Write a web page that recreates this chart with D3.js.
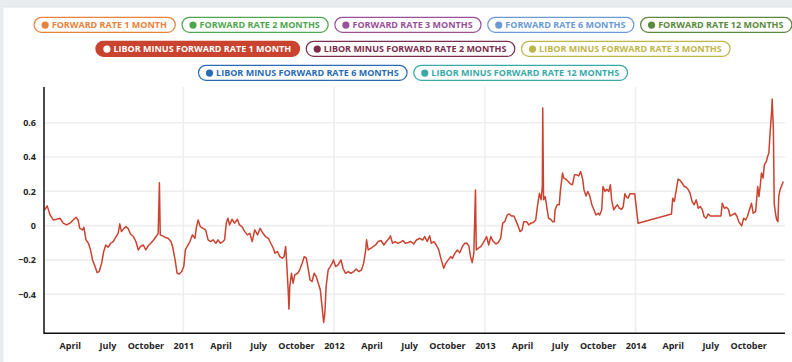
<!DOCTYPE html>
<html><head><meta charset="utf-8">
<script src="https://cdn.jsdelivr.net/npm/d3@7/dist/d3.min.js"></script>
<style>
html,body{margin:0;padding:0;background:#fff;overflow:hidden;}
svg{display:block;font-family:"Open Sans",sans-serif;}
</style></head><body>
<svg id="chart" width="792" height="362"></svg>
<script>
const legendLabels = [
  "FORWARD RATE 1 MONTH","FORWARD RATE 2 MONTHS","FORWARD RATE 3 MONTHS","FORWARD RATE 6 MONTHS","FORWARD RATE 12 MONTHS",
  "LIBOR MINUS FORWARD RATE 1 MONTH","LIBOR MINUS FORWARD RATE 2 MONTHS","LIBOR MINUS FORWARD RATE 3 MONTHS",
  "LIBOR MINUS FORWARD RATE 6 MONTHS","LIBOR MINUS FORWARD RATE 12 MONTHS"
];
const legendColors = ["#e8823a","#4ea64e","#9a4f97","#6a9ad2","#5b8a3c","#c9432f","#7d2d4d","#bfb64a","#2a6cb4","#3aaaa8"];
const legendRows = [5,3,2];
const activeSeries = "LIBOR MINUS FORWARD RATE 1 MONTH";

const dates = [
"2010-01-30","2010-02-05","2010-02-12","2010-02-20","2010-02-28","2010-03-08","2010-03-16","2010-03-24","2010-04-01","2010-04-09",
"2010-04-16","2010-04-21","2010-04-25","2010-05-02","2010-05-05","2010-05-10","2010-05-16","2010-05-21","2010-05-26","2010-06-01",
"2010-06-06","2010-06-11","2010-06-17","2010-06-22","2010-06-27","2010-07-03","2010-07-09","2010-07-15","2010-07-22","2010-07-27",
"2010-07-31","2010-08-04","2010-08-10","2010-08-15","2010-08-20","2010-08-26","2010-09-02","2010-09-08","2010-09-14","2010-09-19",
"2010-09-26","2010-10-02","2010-10-08","2010-10-14","2010-10-20","2010-10-27","2010-11-01","2010-11-04","2010-11-06","2010-11-12",
"2010-11-17","2010-11-25","2010-12-02","2010-12-06","2010-12-12","2010-12-17","2010-12-22","2010-12-28",
"2011-01-02","2011-01-06","2011-01-10","2011-01-17","2011-01-23","2011-01-29","2011-02-02","2011-02-06","2011-02-11","2011-02-18",
"2011-02-24","2011-03-02","2011-03-08","2011-03-14","2011-03-21","2011-03-26","2011-04-01","2011-04-07","2011-04-11","2011-04-15",
"2011-04-19","2011-04-23","2011-04-29","2011-05-05","2011-05-12","2011-05-17","2011-05-23","2011-05-30","2011-06-05","2011-06-11",
"2011-06-17","2011-06-23","2011-06-30","2011-07-06","2011-07-13","2011-07-19","2011-07-26","2011-08-01","2011-08-07","2011-08-11",
"2011-08-17","2011-08-23","2011-08-29","2011-09-02","2011-09-06","2011-09-09","2011-09-12","2011-09-14","2011-09-16","2011-09-20",
"2011-09-24","2011-09-28","2011-10-05","2011-10-10","2011-10-16","2011-10-21","2011-10-26","2011-10-31","2011-11-04","2011-11-09",
"2011-11-14","2011-11-19","2011-11-24","2011-11-29","2011-12-04","2011-12-07","2011-12-10","2011-12-13","2011-12-18","2011-12-23",
"2011-12-28","2011-12-31",
"2012-01-05","2012-01-11","2012-01-18","2012-01-23","2012-01-29","2012-02-05","2012-02-11","2012-02-18","2012-02-24","2012-03-01",
"2012-03-08","2012-03-13","2012-03-18","2012-03-20","2012-03-24","2012-03-31","2012-04-05","2012-04-11","2012-04-17","2012-04-24",
"2012-05-01","2012-05-07","2012-05-14","2012-05-17","2012-05-22","2012-05-28","2012-06-03","2012-06-09","2012-06-16","2012-06-22",
"2012-06-29","2012-07-05","2012-07-12","2012-07-19","2012-07-27","2012-08-03","2012-08-08","2012-08-14","2012-08-20","2012-08-24",
"2012-08-30","2012-09-05","2012-09-11","2012-09-17","2012-09-23","2012-09-28","2012-10-04","2012-10-10","2012-10-14","2012-10-20",
"2012-10-26","2012-11-01","2012-11-07","2012-11-13","2012-11-18","2012-11-23","2012-11-27","2012-12-01","2012-12-05","2012-12-09",
"2012-12-11","2012-12-16","2012-12-22","2012-12-28",
"2013-01-05","2013-01-10","2013-01-15","2013-01-21","2013-01-28","2013-02-02","2013-02-08","2013-02-13","2013-02-18","2013-02-24",
"2013-03-01","2013-03-06","2013-03-12","2013-03-17","2013-03-23","2013-03-27","2013-04-01","2013-04-05","2013-04-12","2013-04-17",
"2013-04-22","2013-04-28","2013-05-04","2013-05-08","2013-05-13","2013-05-17","2013-05-20","2013-05-21","2013-05-23","2013-05-27",
"2013-05-30","2013-06-04","2013-06-09","2013-06-14","2013-06-18","2013-06-20","2013-06-25","2013-06-30","2013-07-03","2013-07-08",
"2013-07-11","2013-07-16","2013-07-22","2013-07-27","2013-08-01","2013-08-06","2013-08-11","2013-08-16","2013-08-21","2013-08-26",
"2013-08-29","2013-09-03","2013-09-07","2013-09-12","2013-09-17","2013-09-22","2013-09-27","2013-10-03","2013-10-06","2013-10-11",
"2013-10-14","2013-10-19","2013-10-23","2013-10-28","2013-11-01","2013-11-04","2013-11-09","2013-11-13","2013-11-18","2013-11-23",
"2013-11-28","2013-12-02","2013-12-06","2013-12-10","2013-12-14","2013-12-18","2013-12-24","2013-12-30",
"2014-01-07","2014-03-29","2014-04-01","2014-04-05","2014-04-09","2014-04-14","2014-04-19","2014-04-24","2014-04-29","2014-05-04",
"2014-05-09","2014-05-13","2014-05-18","2014-05-23","2014-05-28","2014-06-02","2014-06-07","2014-06-12","2014-06-16","2014-06-21",
"2014-06-26","2014-07-01","2014-07-08","2014-07-16","2014-07-27","2014-07-30","2014-08-04","2014-08-09","2014-08-14","2014-08-18",
"2014-08-23","2014-08-30","2014-09-04","2014-09-08","2014-09-15","2014-09-20","2014-09-25","2014-09-29","2014-10-04","2014-10-09",
"2014-10-13","2014-10-19","2014-10-24","2014-10-27","2014-10-30","2014-11-02","2014-11-06","2014-11-09","2014-11-14","2014-11-17",
"2014-11-20","2014-11-23","2014-11-27","2014-11-28","2014-12-01","2014-12-03","2014-12-06","2014-12-09","2014-12-12","2014-12-14",
"2014-12-17","2014-12-21","2014-12-25"
];
const liborMinusForward1M = [
0.091,0.115,0.062,0.033,0.037,0.043,0.014,0.004,0.014,0.033,
0.049,0.033,-0.016,-0.025,-0.010,-0.083,-0.103,-0.142,-0.200,-0.239,
-0.274,-0.268,-0.219,-0.151,-0.113,-0.126,-0.103,-0.093,-0.064,-0.045,
0.010,-0.035,-0.016,-0.006,-0.016,-0.049,-0.064,-0.093,-0.142,-0.122,
-0.113,-0.142,-0.118,-0.103,-0.087,-0.064,-0.045,0.250,-0.054,-0.060,
-0.068,-0.074,-0.093,-0.122,-0.200,-0.278,-0.282,-0.268,
-0.239,-0.142,-0.122,-0.093,-0.054,-0.074,-0.006,0.033,-0.006,-0.016,
-0.025,-0.083,-0.093,-0.083,-0.103,-0.083,-0.103,-0.093,-0.083,0.014,
0.043,0.004,0.037,0.014,0.037,0.004,-0.006,-0.035,-0.054,-0.045,
-0.093,-0.025,-0.054,-0.016,-0.045,-0.064,-0.074,-0.103,-0.132,-0.161,
-0.151,-0.181,-0.190,-0.181,-0.122,-0.239,-0.375,-0.487,-0.355,-0.278,
-0.336,-0.287,-0.278,-0.258,-0.219,-0.181,-0.190,-0.258,-0.317,-0.326,
-0.278,-0.297,-0.336,-0.375,-0.491,-0.565,-0.511,-0.355,-0.258,-0.239,
-0.219,-0.200,
-0.239,-0.229,-0.200,-0.249,-0.278,-0.268,-0.278,-0.268,-0.254,-0.268,
-0.258,-0.219,-0.142,-0.083,-0.142,-0.132,-0.122,-0.113,-0.093,-0.087,
-0.113,-0.093,-0.074,-0.060,-0.103,-0.093,-0.103,-0.099,-0.087,-0.103,
-0.099,-0.093,-0.107,-0.084,-0.074,-0.084,-0.064,-0.093,-0.060,-0.103,
-0.093,-0.113,-0.142,-0.200,-0.249,-0.220,-0.200,-0.181,-0.191,-0.162,
-0.142,-0.158,-0.123,-0.103,-0.103,-0.119,-0.181,-0.216,-0.162,0.208,
-0.142,-0.132,-0.123,-0.099,
-0.064,-0.113,-0.064,-0.093,-0.107,-0.099,-0.074,0.014,0.023,0.062,
0.068,0.056,0.056,0.029,-0.006,-0.035,-0.025,0.023,0.023,0.004,
0.014,0.018,0.033,0.111,0.189,0.150,0.228,0.685,0.150,0.169,
0.121,0.043,0.037,0.023,0.023,0.092,0.121,0.121,0.208,0.306,
0.277,0.271,0.257,0.243,0.238,0.296,0.296,0.290,0.315,0.267,
0.208,0.173,0.199,0.173,0.121,0.092,0.062,0.072,0.062,0.092,
0.228,0.199,0.212,0.199,0.238,0.150,0.092,0.107,0.121,0.101,
0.095,0.111,0.185,0.166,0.160,0.185,0.185,0.185,
0.014,0.068,0.160,0.140,0.199,0.271,0.263,0.247,0.228,0.224,
0.208,0.189,0.140,0.121,0.150,0.101,0.111,0.092,0.053,0.043,
0.068,0.056,0.056,0.056,0.056,0.130,0.101,0.107,0.095,0.056,
0.062,0.072,0.053,0.023,-0.002,0.043,0.033,0.053,0.092,0.130,
0.072,0.082,0.228,0.169,0.228,0.306,0.277,0.354,0.374,0.403,
0.423,0.539,0.676,0.738,0.559,0.130,0.072,0.033,0.023,0.169,
0.208,0.232,0.257
];
const yTickValues = [-0.4,-0.2,0,0.2,0.4,0.6];
const yDomain = [-0.628, 0.808];
const gridYears = ["2011-01-01","2012-01-01","2013-01-01","2014-01-01"];

(function(){
const svg = d3.select("#chart");
const W = 792, H = 362;
const parse = d3.timeParse("%Y-%m-%d");
const data = dates.map((d,i)=>({date:parse(d), value:liborMinusForward1M[i]}));

// frame
svg.append("rect").attr("x",0).attr("y",0).attr("width",W).attr("height",H).attr("fill","#e8ecee");
svg.append("rect").attr("x",3.5).attr("y",7).attr("width",W-3.5).attr("height",H-7).attr("fill","#fff");
svg.append("line").attr("x1",3.5).attr("x2",W).attr("y1",7).attr("y2",7).attr("stroke","#dde2e5").attr("stroke-width",1);

const pLeft = 44, pRight = 785, pTop = 87, pBottom = 333.3;
const x = d3.scaleTime().domain(d3.extent(data,d=>d.date)).range([pLeft+0.7, 783.3]);
const y = d3.scaleLinear().domain(yDomain).range([pBottom, pTop]);

// grid
const grid = svg.append("g");
grid.selectAll(".hg").data(yTickValues).join("line")
  .attr("x1",pLeft).attr("x2",pRight).attr("y1",d=>y(d)).attr("y2",d=>y(d))
  .attr("stroke","#eeeeee").attr("stroke-width",1.6);
grid.selectAll(".vg").data(gridYears.map(parse)).join("line")
  .attr("x1",d=>x(d)).attr("x2",d=>x(d)).attr("y1",pTop).attr("y2",pBottom)
  .attr("stroke","#eeeeee").attr("stroke-width",1.6);

// line
const line = d3.line().x(d=>x(d.date)).y(d=>y(d.value));
svg.append("path").datum(data).attr("d",line).attr("fill","none")
  .attr("stroke","#c9432f").attr("stroke-width",1.5).attr("stroke-linejoin","round");

// axes
const fmt = d=> d.getMonth()===0 ? d3.timeFormat("%Y")(d) : d3.timeFormat("%B")(d);
const xAxis = d3.axisBottom(x).ticks(d3.timeMonth.every(3)).tickFormat(fmt).tickSize(0).tickPadding(9);
const gx = svg.append("g").attr("transform",`translate(0,${pBottom})`).call(xAxis);
gx.select(".domain").remove();
gx.selectAll("text").attr("font-family","'Open Sans',sans-serif").attr("font-size","9px").attr("font-weight",700).attr("fill","#262626");

const yAxis = d3.axisLeft(y).tickValues(yTickValues).tickFormat(d=>d===0?"0":d3.format(".1f")(d)).tickSize(0).tickPadding(8);
const gy = svg.append("g").attr("transform",`translate(${pLeft},0)`).call(yAxis);
gy.select(".domain").remove();
gy.selectAll("text").attr("font-family","'Open Sans',sans-serif").attr("font-size","9px").attr("font-weight",700).attr("fill","#262626");

svg.append("line").attr("x1",pLeft).attr("x2",pLeft).attr("y1",pTop).attr("y2",pBottom+0.75).attr("stroke","#111").attr("stroke-width",1.5);
svg.append("line").attr("x1",pLeft).attr("x2",pRight).attr("y1",pBottom).attr("y2",pBottom).attr("stroke","#111").attr("stroke-width",1.5);

// legend
const lg = svg.append("g");
const rowY = [24.8, 48.8, 72.8];
const centerX = 413, gap = 6.7, pillH = 15;
let idx = 0;
legendRows.forEach((n,r)=>{
  const items = [];
  for(let k=0;k<n;k++){ items.push(idx++); }
  const widths = items.map(i=>{
    const t = lg.append("text").attr("font-size","9px").attr("font-weight",700).text(legendLabels[i]);
    const w = t.node().getComputedTextLength(); t.remove(); return w+26;
  });
  const total = d3.sum(widths) + gap*(n-1);
  let cx = centerX - total/2;
  items.forEach((i,k)=>{
    const w = widths[k], active = legendLabels[i]===activeSeries, c = legendColors[i];
    const g = lg.append("g").attr("transform",`translate(${cx},${rowY[r]})`);
    g.append("rect").attr("x",0).attr("y",-pillH/2).attr("width",w).attr("height",pillH)
      .attr("rx",pillH/2).attr("fill",active?c:"#fff").attr("stroke",c).attr("stroke-width",1.2);
    g.append("circle").attr("cx",11).attr("cy",0.3).attr("r",3.6).attr("fill",active?"#fff":c);
    g.append("text").attr("x",17.6).attr("y",3.2).attr("font-size","9px").attr("font-weight",700)
      .attr("fill",active?"#fff":c).text(legendLabels[i]);
    cx += w + gap;
  });
});
})();
</script>
</body></html>
